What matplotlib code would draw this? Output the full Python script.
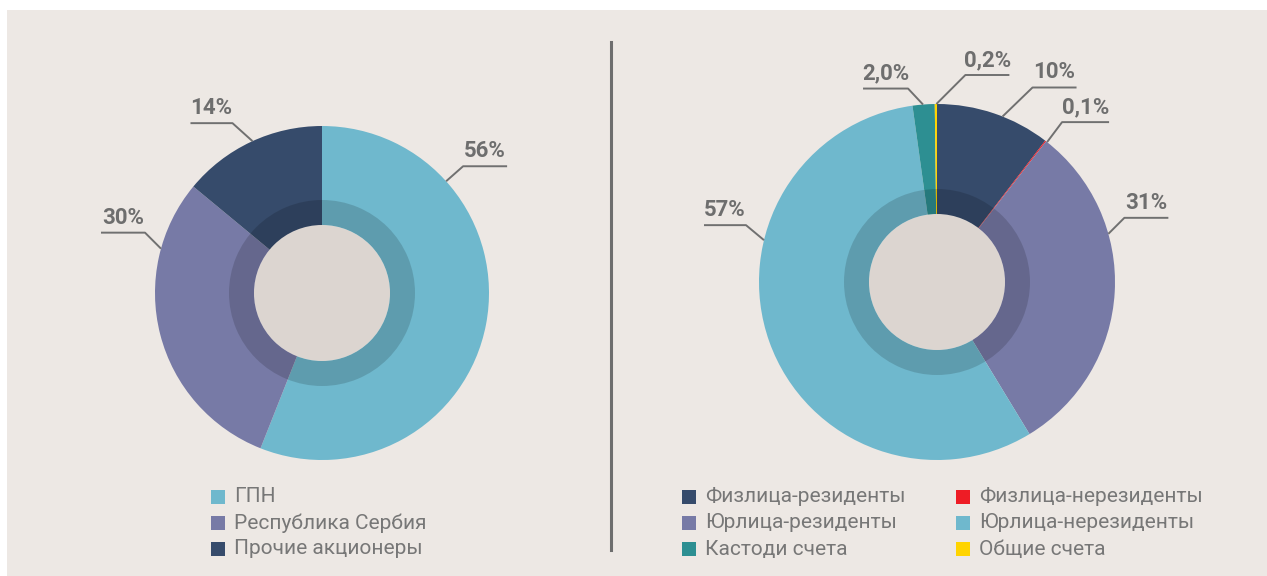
import numpy as np
import matplotlib.pyplot as plt
from matplotlib.patches import Rectangle, Circle, Wedge

W, H = 1267, 576

BG = '#ede8e4'
TEXT = '#6e6e6e'
LEG_TEXT = '#777777'
HOLE = '#dcd5d0'

# left chart: shareholders
left_names = ['ГПН', 'Республика Сербия', 'Прочие акционеры']
left_values = [56, 30, 14]
left_labels = ['56%', '30%', '14%']
left_colors = ['#6fb8cd', '#777aa6', '#364b6b']

# right chart: holder categories
right_names = ['Физлица-резиденты', 'Физлица-нерезиденты', 'Юрлица-резиденты',
               'Юрлица-нерезиденты', 'Кастоди счета', 'Общие счета']
right_values = [10.4, 0.1, 30.8, 56.5, 2.0, 0.2]
right_labels = ['10%', '0,1%', '31%', '57%', '2,0%', '0,2%']
right_colors = ['#364b6b', '#ee1c25', '#777aa6', '#6fb8cd', '#2d8f92', '#ffd400']

# label placement: compass angle of the anchor, elbow offset (px), underline length (signed)
left_anchor = [48, 285.4, 335.4]
left_elbow = [(17, 15), (-16, 16), (-20, 18)]
left_line = [44, -44, -42]

right_anchor = [21.6, 38.2, 74.3, 283.6, 355.5, 359.8]
right_elbow = [(30, 29), (15, 20), (16, 16), (-18, 15), (-15, 16), (29, 29)]
right_line = [44, 47, 44, -42, -45, 44]

plt.rcParams['font.family'] = ['Roboto', 'DejaVu Sans']

fig = plt.figure(figsize=(W / 100, H / 100), dpi=100, facecolor='white')
ax = fig.add_axes([0, 0, 1, 1])


def donut(ax, values, colors, center, radius):
    ax.pie(values, colors=colors, startangle=90, counterclock=False,
           radius=radius, center=center, wedgeprops=dict(linewidth=0))
    ax.add_patch(Wedge(center, 93, 0, 360, width=25, facecolor='black',
                       alpha=0.15, linewidth=0, zorder=3))
    ax.add_patch(Circle(center, 68, facecolor=HOLE, linewidth=0, zorder=4))


def labels(ax, texts, center, radius, anchors, elbows, lines):
    for t, a, (ex, ey), ln in zip(texts, anchors, elbows, lines):
        ang = np.deg2rad(90 - a)
        x0 = center[0] + radius * np.cos(ang)
        y0 = center[1] + radius * np.sin(ang)
        x1, y1 = x0 + ex, y0 + ey
        x2 = x1 + ln
        ax.plot([x0, x1, x2], [y0, y1, y1], color='#707070', lw=1.4,
                solid_capstyle='butt', zorder=5)
        ax.text((x1 + x2) / 2, y1 + 4, t, ha='center', va='bottom',
                fontsize=16, fontweight='bold', color=TEXT, zorder=6)


def legend(ax, names, colors, x0, col_dx, ys, ncol):
    for i, (n, c) in enumerate(zip(names, colors)):
        col, row = i % ncol, i // ncol
        x = x0 + col * col_dx
        y = ys[row]
        ax.add_patch(Rectangle((x, y - 7), 14, 14, facecolor=c, linewidth=0))
        ax.text(x + 23, y, n, ha='left', va='center', fontsize=15,
                color=LEG_TEXT)


ax.add_patch(Rectangle((7, 0), W - 7, H - 10, facecolor=BG, linewidth=0, zorder=0))

lc, lr = (322, H - 293), 167
rc, rr = (937, H - 282), 178
donut(ax, left_values, left_colors, lc, lr)
donut(ax, right_values, right_colors, rc, rr)
labels(ax, left_labels, lc, lr, left_anchor, left_elbow, left_line)
labels(ax, right_labels, rc, rr, right_anchor, right_elbow, right_line)

rows = [H - 497, H - 523, H - 549]
legend(ax, left_names, left_colors, 211, 0, rows, 1)
legend(ax, right_names, right_colors, 682, 274, rows, 2)

# divider
ax.plot([611, 611], [H - 42, H - 550], color='#6e6e6e', lw=2.2)

ax.set_xlim(0, W)
ax.set_ylim(0, H)
ax.set_aspect('auto')
ax.axis('off')

fig.savefig('out.png', dpi=100, facecolor='white')
